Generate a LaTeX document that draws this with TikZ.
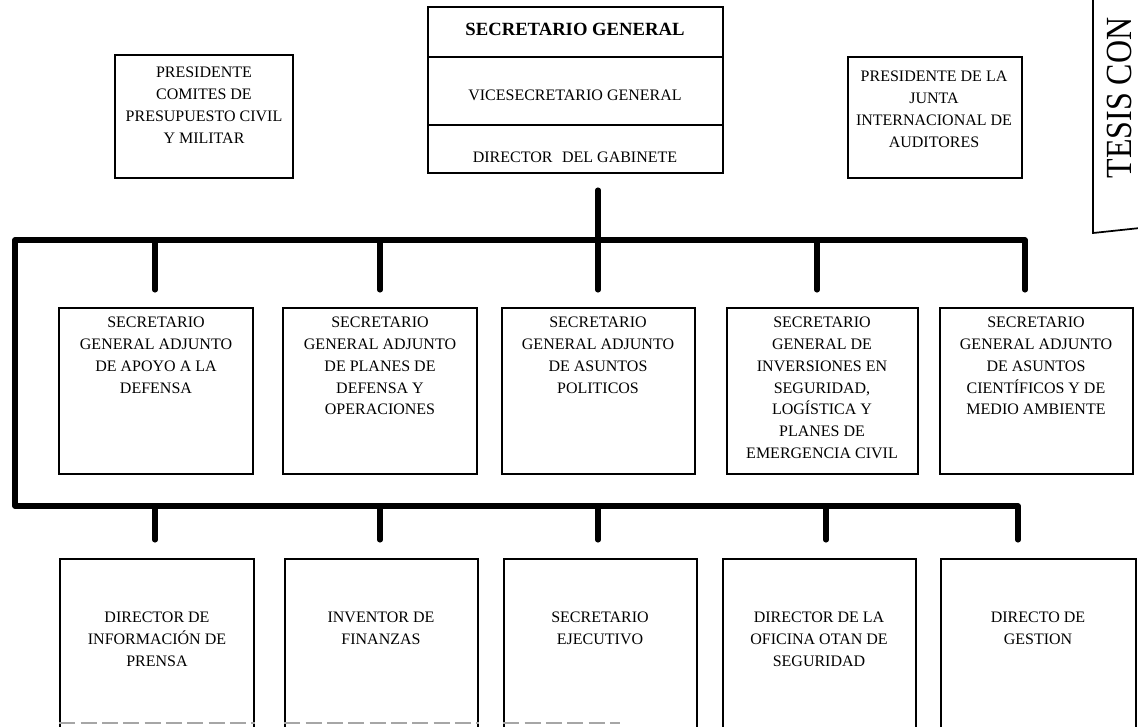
\documentclass[tikz,border=0pt]{standalone}
\usepackage{fontspec}
\setmainfont{Liberation Serif}
\usetikzlibrary{fit}
\begin{document}
\begin{tikzpicture}[x=0.75pt,y=-0.75pt,
  box/.style={draw, line width=1.1pt, inner sep=0pt},
  conn/.style={line width=3.8pt, line cap=round, line join=round},
  txt/.style={font=\fontsize{12}{16.3}\selectfont, align=center, inner sep=0pt, anchor=north},
  ctxt/.style={font=\fontsize{12}{16.3}\selectfont, align=center, inner sep=0pt},
  cut/.style={draw=gray!70, line width=1.1pt, dash pattern=on 12pt off 4pt}]
\useasboundingbox (0,0) rectangle (1138,726);

% ---- top centre
\node[box, fit={(428,7) (723,57)}] (sg) {};
\node[box, fit={(428,57) (723,125)}] (vsg) {};
\node[box, fit={(428,125) (723,173)}] (dg) {};
\node[ctxt, font=\bfseries\fontsize{14}{16}\selectfont] (sgt) at (575,29) {SECRETARIO GENERAL};
\node[ctxt] (vsgt) at (575,95) {VICESECRETARIO GENERAL};
\node[ctxt] (dgt) at (575,157) {DIRECTOR\hspace{0.6em}DEL GABINETE};

% ---- top sides
\node[box, fit={(115,55) (293,178)}] (pc) {};
\node[txt] (pct) at (204,67) {PRESIDENTE\\COMITES DE\\PRESUPUESTO CIVIL\\Y MILITAR};
\node[box, fit={(848,57) (1022,178)}] (pj) {};
\node[txt] (pjt) at (934,71) {PRESIDENTE DE LA\\JUNTA\\INTERNACIONAL DE\\AUDITORES};

% ---- middle row
\node[box, fit={(59,308) (253,474)}] (m1) {};
\node[box, fit={(283,308) (477,474)}] (m2) {};
\node[box, fit={(502,308) (695,474)}] (m3) {};
\node[box, fit={(727,308) (918,474)}] (m4) {};
\node[box, fit={(940,308) (1133,474)}] (m5) {};
\node[txt] (m1t) at (156,317) {SECRETARIO\\GENERAL ADJUNTO\\DE APOYO A LA\\DEFENSA};
\node[txt] (m2t) at (380,317) {SECRETARIO\\GENERAL ADJUNTO\\DE PLANES DE\\DEFENSA Y\\OPERACIONES};
\node[txt] (m3t) at (598,317) {SECRETARIO\\GENERAL ADJUNTO\\DE ASUNTOS\\POLITICOS};
\node[txt] (m4t) at (822,317) {SECRETARIO\\GENERAL DE\\INVERSIONES EN\\SEGURIDAD,\\LOGÍSTICA Y\\PLANES DE\\EMERGENCIA CIVIL};
\node[txt] (m5t) at (1036,317) {SECRETARIO\\GENERAL ADJUNTO\\DE ASUNTOS\\CIENTÍFICOS Y DE\\MEDIO AMBIENTE};

% ---- bottom row (cut off by the page edge)
\node[box, fit={(60,559) (254,740)}] (b1) {};
\node[box, fit={(285,559) (478,740)}] (b2) {};
\node[box, fit={(504,559) (697,740)}] (b3) {};
\node[box, fit={(723,559) (916,740)}] (b4) {};
\node[box, fit={(941,559) (1136,740)}] (b5) {};
\node[txt] (b1t) at (157,612) {DIRECTOR DE\\INFORMACIÓN DE\\PRENSA};
\node[txt] (b2t) at (381,612) {INVENTOR DE\\FINANZAS};
\node[txt] (b3t) at (600,612) {SECRETARIO\\EJECUTIVO};
\node[txt] (b4t) at (819,612) {DIRECTOR DE LA\\OFICINA OTAN DE\\SEGURIDAD};
\node[txt] (b5t) at (1038,612) {DIRECTO DE\\GESTION};
\draw[cut] (b1.west |- 0,723) -- (b1.east |- 0,723);
\draw[cut] (b2.west |- 0,723) -- (b2.east |- 0,723);
\draw[cut] (b3.west |- 0,723) -- (620,723);

% ---- connectors
\coordinate (t0) at (598,190);
\coordinate (tl) at (15,240);
\coordinate (bl) at (15,506);
\coordinate (c1) at (155,290);
\coordinate (c2) at (380,290);
\coordinate (c3) at (598,290);
\coordinate (c4) at (817,290);
\coordinate (c5) at (1025,290);
\coordinate (d1) at (155,540);
\coordinate (d2) at (380,540);
\coordinate (d3) at (598,540);
\coordinate (d4) at (826,540);
\coordinate (d5) at (1018,540);

\draw[conn] (t0) -- (c3);
\draw[conn] (c5) -- (c5 |- tl) -- (tl) -- (bl) -- (bl -| d5) -- (d5);
\foreach \i in {1,2,4} \draw[conn] (c\i |- tl) -- (c\i);
\foreach \i in {1,2,3,4} \draw[conn] (d\i |- bl) -- (d\i);

% ---- stamp
\draw[line width=1.3pt] (1093,-5) -- (1093,233) -- (1140,228);
\node[inner sep=0pt, rotate=90, font=\fontsize{24}{24}\selectfont] (stamp) at (1119,98) {\scalebox{1}[1.15]{TESIS CON}};
\end{tikzpicture}
\end{document}
